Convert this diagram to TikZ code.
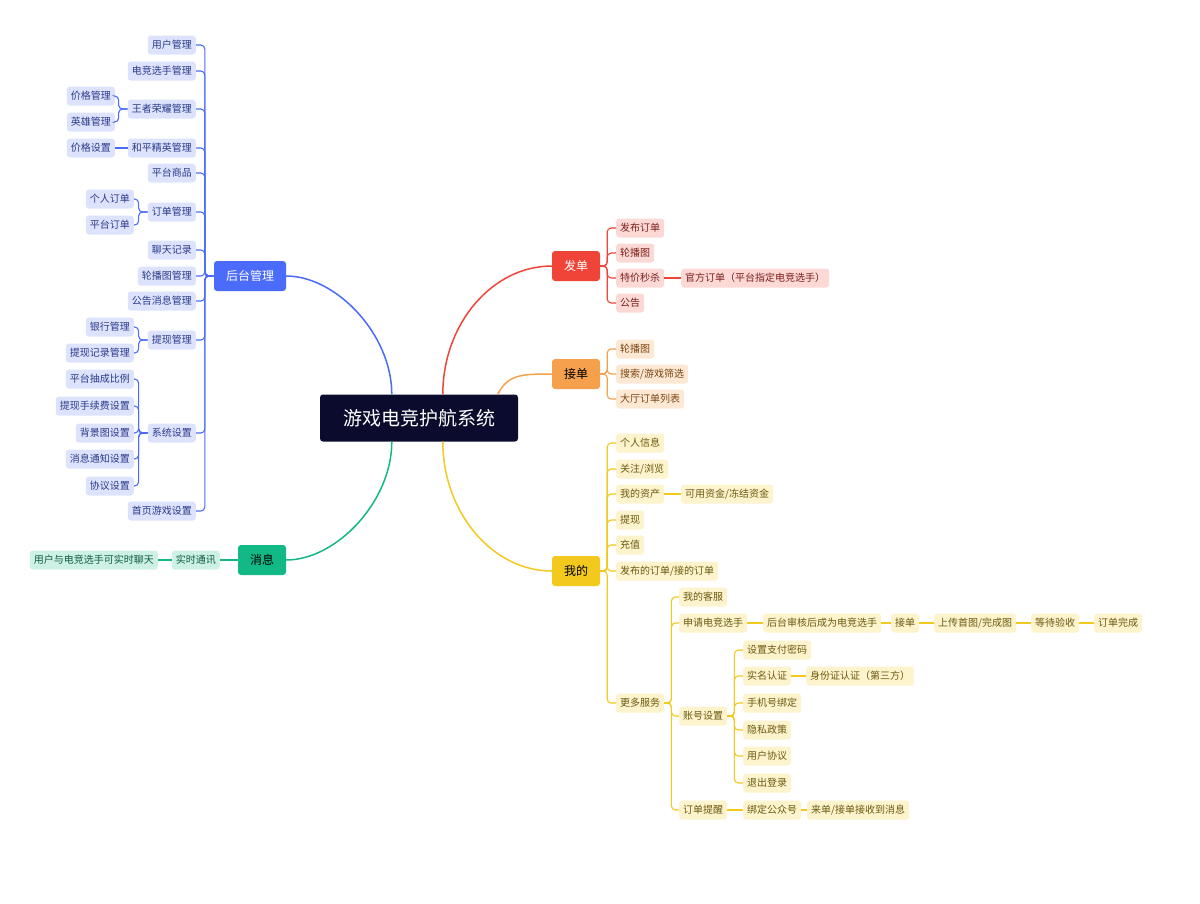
\documentclass[tikz,border=0pt]{standalone}
\usepackage{fontspec}
\setmainfont{Noto Sans CJK SC}
\usetikzlibrary{positioning, calc}
\definecolor{cBlue}{HTML}{4B6BFB}
\definecolor{fBlue}{HTML}{DDE3FD}
\definecolor{tBlue}{HTML}{2B3A8A}
\definecolor{cRed}{HTML}{F04438}
\definecolor{fRed}{HTML}{FDD9D6}
\definecolor{tRed}{HTML}{7A1F1A}
\definecolor{cOra}{HTML}{F5A04C}
\definecolor{fOra}{HTML}{FDE8D3}
\definecolor{tOra}{HTML}{7A4512}
\definecolor{cYel}{HTML}{F2C91C}
\definecolor{fYel}{HTML}{FDF3CC}
\definecolor{tYel}{HTML}{6B5A10}
\definecolor{cGre}{HTML}{12B886}
\definecolor{fGre}{HTML}{CDF1E4}
\definecolor{tGre}{HTML}{0D5C40}
\definecolor{cNavy}{HTML}{0B0B2E}
\tikzset{
  leaf/.style={rounded corners=3pt, inner xsep=4pt, inner ysep=0pt, minimum height=19pt, font=\fontsize{10}{11}\selectfont},
  bl/.style={leaf, fill=fBlue, text=tBlue},
  rl/.style={leaf, fill=fRed, text=tRed},
  ol/.style={leaf, fill=fOra, text=tOra},
  yl/.style={leaf, fill=fYel, text=tYel},
  gl/.style={leaf, fill=fGre, text=tGre},
  branch/.style={rounded corners=3pt, minimum width=48pt, minimum height=30pt, inner ysep=0pt, font=\fontsize{12}{13}\selectfont},
  edge/.style={line width=1.1pt, rounded corners=4pt},
}
\begin{document}
\begin{tikzpicture}[x=1pt, y=-1pt]
  \useasboundingbox (0,0) rectangle (1200,903);

  % root
  \node[fill=cNavy, text=white, rounded corners=3pt, minimum width=198pt, minimum height=47pt,
        font=\fontsize{19}{20}\selectfont] (root) at (419,418) {游戏电竞护航系统};

  % main branches
  \node[branch, fill=cBlue, text=white, minimum width=72pt] (admin) at (250,276) {后台管理};
  \node[branch, fill=cGre, text=black] (msg) at (262,560) {消息};
  \node[branch, fill=cRed, text=white] (post) at (576,266) {发单};
  \node[branch, fill=cOra, text=black] (take) at (576,374) {接单};
  \node[branch, fill=cYel, text=black] (mine) at (576,571) {我的};

  \draw[cBlue, line width=1.5pt] ($(root.north west)+(72,0)$) .. controls +(0,-60) and +(50,0) .. (admin.east);
  \draw[cGre, line width=1.5pt] ($(root.south west)+(72,0)$) .. controls +(0,60) and +(50,0) .. (msg.east);
  \draw[cRed, line width=1.5pt] ($(root.north west)+(123,0)$) .. controls +(0,-70) and +(-60,0) .. (post.west);
  \draw[cOra, line width=1.5pt] ($(root.north west)+(178,0)$) .. controls +(10,-20) and +(-30,0) .. (take.west);
  \draw[cYel, line width=1.5pt] ($(root.south west)+(123,0)$) .. controls +(0,70) and +(-60,0) .. (mine.west);

  % admin children
  \foreach \n/\y/\t in {a1/45/用户管理, a2/71/电竞选手管理, a3/109/王者荣耀管理, a4/148/和平精英管理,
      a5/173/平台商品, a6/212/订单管理, a7/250/聊天记录, a8/276/轮播图管理, a9/301/公告消息管理,
      a10/340/提现管理, a11/433/系统设置, a12/511/首页游戏设置}{
    \node[bl, anchor=east] (\n) at (196,\y) {\t};
    \draw[edge, cBlue] (admin.west) -- ++(-9,0) |- (\n.east);
  }
  \foreach \n/\y/\t in {a31/96/价格管理, a32/122/英雄管理}{
    \node[bl, anchor=east] (\n) at (115,\y) {\t};
    \draw[edge, cBlue] (a3.west) -- ++(-9,0) |- (\n.east);
  }
  \node[bl, anchor=east] (a41) at (115,148) {价格设置};
  \draw[edge, cBlue] (a4.west) -- (a41.east);
  \foreach \n/\y/\t in {a61/199/个人订单, a62/225/平台订单}{
    \node[bl, anchor=east] (\n) at (134,\y) {\t};
    \draw[edge, cBlue] (a6.west) -- ++(-9,0) |- (\n.east);
  }
  \foreach \n/\y/\t in {a101/327/银行管理, a102/353/提现记录管理}{
    \node[bl, anchor=east] (\n) at (134,\y) {\t};
    \draw[edge, cBlue] (a10.west) -- ++(-9,0) |- (\n.east);
  }
  \foreach \n/\y/\t in {a111/379/平台抽成比例, a112/406/提现手续费设置, a113/433/背景图设置,
      a114/459/消息通知设置, a115/486/协议设置}{
    \node[bl, anchor=east] (\n) at (134,\y) {\t};
    \draw[edge, cBlue] (a11.west) -- ++(-9,0) |- (\n.east);
  }

  % message
  \node[gl, anchor=east] (m1) at (220,560) {实时通讯};
  \node[gl, anchor=east] (m11) at (158,560) {用户与电竞选手可实时聊天};
  \draw[edge, cGre] (msg.west) -- (m1.east);
  \draw[edge, cGre] (m1.west) -- (m11.east);

  % post orders
  \foreach \n/\y/\t in {p1/228/发布订单, p2/253/轮播图, p3/278/特价秒杀, p4/303/公告}{
    \node[rl, anchor=west] (\n) at (616,\y) {\t};
    \draw[edge, cRed] (post.east) -- ++(7,0) |- (\n.west);
  }
  \node[rl, anchor=west] (p31) at (681,278) {官方订单（平台指定电竞选手）};
  \draw[edge, cRed] (p3.east) -- (p31.west);

  % take orders
  \foreach \n/\y/\t in {t1/349/{轮播图}, t2/374/{搜索/游戏筛选}, t3/399/{大厅订单列表}}{
    \node[ol, anchor=west] (\n) at (616,\y) {\t};
    \draw[edge, cOra] (take.east) -- ++(7,0) |- (\n.west);
  }

  % mine
  \foreach \n/\y/\t in {y1/443/{个人信息}, y2/469/{关注/浏览}, y3/494/{我的资产}, y4/520/{提现},
      y5/545/{充值}, y6/571/{发布的订单/接的订单}, y7/703/{更多服务}}{
    \node[yl, anchor=west] (\n) at (616,\y) {\t};
    \draw[edge, cYel] (mine.east) -- ++(7,0) |- (\n.west);
  }
  \node[yl, anchor=west] (y31) at (681,494) {可用资金/冻结资金};
  \draw[edge, cYel] (y3.east) -- (y31.west);

  \foreach \n/\y/\t in {s1/597/我的客服, s2/623/申请电竞选手, s3/716/账号设置, s4/810/订单提醒}{
    \node[yl, anchor=west] (\n) at (679,\y) {\t};
    \draw[edge, cYel] (y7.east) -- ++(7,0) |- (\n.west);
  }
  % apply chain
  \node[yl, anchor=west] (c1) at (763,623) {后台审核后成为电竞选手};
  \node[yl, anchor=west] (c2) at (891,623) {接单};
  \node[yl, anchor=west] (c3) at (934,623) {上传首图/完成图};
  \node[yl, anchor=west] (c4) at (1031,623) {等待验收};
  \node[yl, anchor=west] (c5) at (1094,623) {订单完成};
  \draw[edge, cYel] (s2) -- (c1) -- (c2) -- (c3) -- (c4) -- (c5);

  % account settings
  \foreach \n/\y/\t in {k1/650/设置支付密码, k2/676/实名认证, k3/703/手机号绑定, k4/730/隐私政策,
      k5/756/用户协议, k6/783/退出登录}{
    \node[yl, anchor=west] (\n) at (743,\y) {\t};
    \draw[edge, cYel] (s3.east) -- ++(7,0) |- (\n.west);
  }
  \node[yl, anchor=west] (k21) at (806,676) {身份证认证（第三方）};
  \draw[edge, cYel] (k2.east) -- (k21.west);

  % order reminder
  \node[yl, anchor=west] (r1) at (743,810) {绑定公众号};
  \node[yl, anchor=west] (r2) at (807,810) {来单/接单接收到消息};
  \draw[edge, cYel] (s4) -- (r1) -- (r2);
\end{tikzpicture}
\end{document}
